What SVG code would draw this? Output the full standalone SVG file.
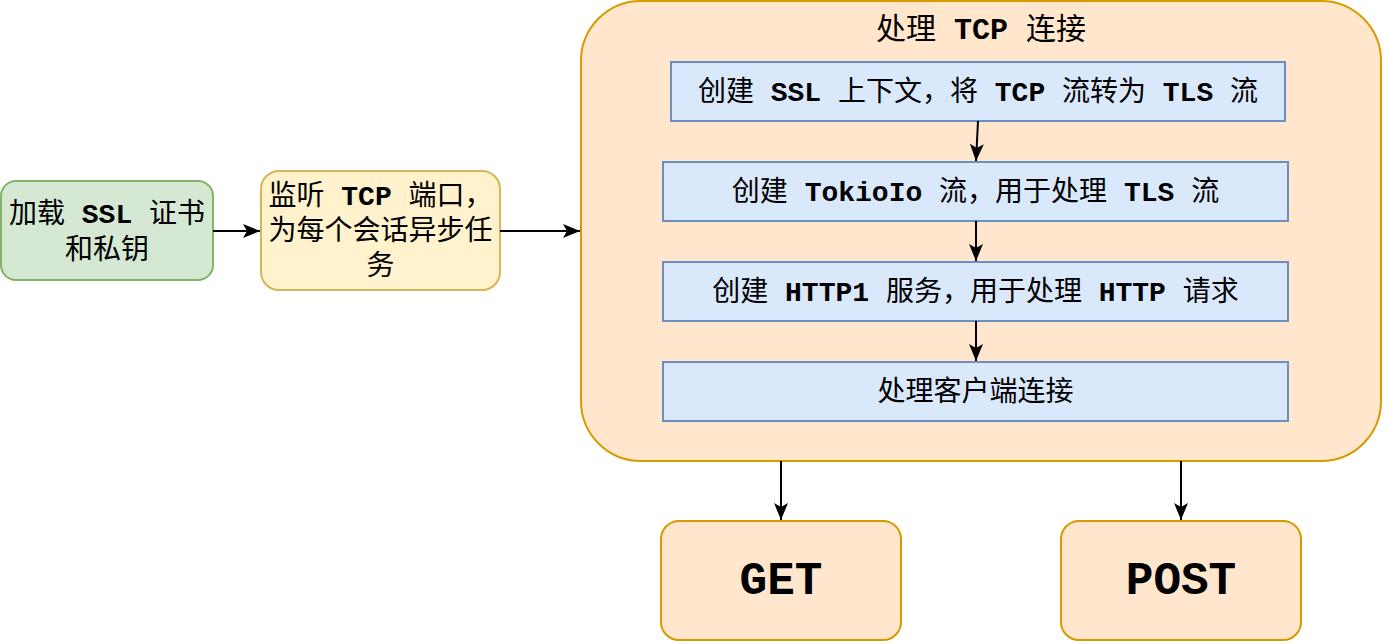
<svg xmlns="http://www.w3.org/2000/svg" width="1384" height="644" viewBox="0 0 1384 644">
<style>
.t{font-family:"Liberation Sans","Noto Sans CJK SC",sans-serif;font-size:28px;fill:#000;text-anchor:middle}
.ti{font-size:30px}
.c{font-family:"Liberation Mono","Courier New",monospace;font-weight:bold}
.big{font-family:"Liberation Mono","Courier New",monospace;font-weight:bold;font-size:46px;fill:#000;text-anchor:middle}
.blue{fill:#dae8fc;stroke:#6c8ebf;stroke-width:2}
.orange{fill:#ffe6cc;stroke:#d79b00;stroke-width:2}
.edge{fill:none;stroke:#000;stroke-width:2;marker-end:url(#arr)}
</style>
<defs>
<marker id="arr" markerUnits="userSpaceOnUse" markerWidth="18" markerHeight="14" viewBox="0 0 18 14" refX="17" refY="7" orient="auto">
<path d="M0,0 L17,7 L0,14 L4,7 z" fill="#000"/>
</marker>
</defs>
<rect width="1384" height="644" fill="#fff"/>
<g id="load-ssl">
<rect x="1" y="181" width="212" height="99" rx="15" fill="#d5e8d4" stroke="#82b366" stroke-width="2"/>
<text class="t" x="107" y="223">加载<tspan class="c"> SSL </tspan>证书</text>
<text class="t" x="107" y="259">和私钥</text>
</g>
<g id="listen-tcp">
<rect x="261" y="171" width="239" height="119" rx="18" fill="#fff2cc" stroke="#d6b656" stroke-width="2"/>
<text class="t" x="380.5" y="205">监听<tspan class="c"> TCP </tspan>端口，</text>
<text class="t" x="380.5" y="240">为每个会话异步任</text>
<text class="t" x="380.5" y="275">务</text>
</g>
<g id="handle-tcp">
<rect class="orange" x="581" y="1" width="800" height="460" rx="60"/>
<text class="t ti" x="981" y="39">处理<tspan class="c"> TCP </tspan>连接</text>
</g>
<g id="create-ssl">
<rect class="blue" x="671" y="62" width="614" height="59"/>
<text class="t" x="978" y="101">创建<tspan class="c"> SSL </tspan>上下文，将<tspan class="c"> TCP </tspan>流转为<tspan class="c"> TLS </tspan>流</text>
</g>
<g id="create-tokioio">
<rect class="blue" x="663" y="162" width="625" height="59"/>
<text class="t" x="975.5" y="201">创建<tspan class="c"> TokioIo </tspan>流，用于处理<tspan class="c"> TLS </tspan>流</text>
</g>
<g id="create-http1">
<rect class="blue" x="663" y="262" width="625" height="59"/>
<text class="t" x="975.5" y="301">创建<tspan class="c"> HTTP1 </tspan>服务，用于处理<tspan class="c"> HTTP </tspan>请求</text>
</g>
<g id="handle-client">
<rect class="blue" x="663" y="362" width="625" height="59"/>
<text class="t" x="975.5" y="401">处理客户端连接</text>
</g>
<g id="get">
<rect class="orange" x="661" y="521" width="240" height="119" rx="18"/>
<text class="big" x="781" y="594">GET</text>
</g>
<g id="post">
<rect class="orange" x="1061" y="521" width="240" height="119" rx="18"/>
<text class="big" x="1181" y="594">POST</text>
</g>
<g id="connectors">
<path class="edge" d="M213,231 L260,231"/>
<path class="edge" d="M500,231 L580,231"/>
<path class="edge" d="M978,121 L976,161"/>
<path class="edge" d="M976,221 L976,261"/>
<path class="edge" d="M976,321 L976,361"/>
<path class="edge" d="M781,461 L781,520"/>
<path class="edge" d="M1181,461 L1181,520"/>
</g>
</svg>
